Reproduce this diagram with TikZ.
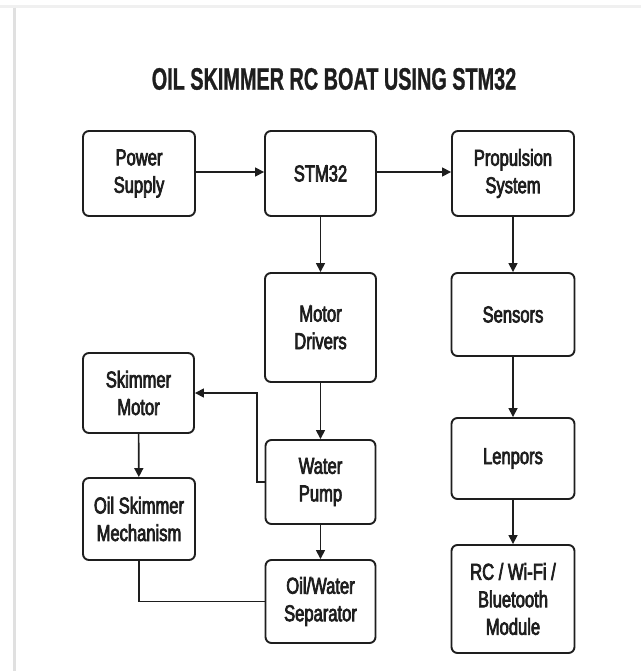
\documentclass[tikz,border=0pt]{standalone}
\usepackage{fontspec}
\setmainfont[FakeStretch=0.72]{Liberation Sans}
\newfontfamily\titlefont[FakeStretch=0.64, FakeBold=0.8]{Liberation Sans}
\usetikzlibrary{arrows.meta}
\definecolor{ink}{HTML}{1E1E1E}
\newcommand\medweight{\special{pdf:literal 2 Tr 0.7 w}}
\tikzset{
  blk/.style={draw=ink, line width=1.9pt, rounded corners=6pt, fill=white,
    align=center, inner sep=0pt, text=ink,
    font=\fontsize{23}{27.5}\selectfont\medweight},
  conn/.style={draw=ink, line width=1.6pt},
  arr/.style={conn, -{Triangle[length=9pt,width=9pt]}}
}
\begin{document}
\begin{tikzpicture}[x=1pt,y=-1pt]
\useasboundingbox (0,0) rectangle (641,671);
\fill[white] (0,0) rectangle (641,671);
% faint page edges
\draw[black!6, line width=3pt] (0,6.5) -- (641,6.5);
\draw[black!12, line width=2.5pt] (14.5,8) -- (14.5,671);

\node[font=\titlefont\bfseries\fontsize{31}{36}\selectfont, text=ink] (title) at (334,79) {OIL SKIMMER RC BOAT USING STM32};

\node[blk, minimum width=112pt, minimum height=85pt] (ps)   at (139,173.5)   {Power\\Supply};
\node[blk, minimum width=111pt, minimum height=85pt] (stm)  at (320.5,173.5) {STM32};
\node[blk, minimum width=122pt, minimum height=85pt] (prop) at (513,173.5)   {Propulsion\\System};
\node[blk, minimum width=111pt, minimum height=109pt] (md)  at (320.5,327.5) {Motor\\Drivers};
\node[blk, minimum width=123pt, minimum height=83pt] (sen)  at (513,314.5)   {Sensors};
\node[blk, minimum width=111pt, minimum height=80pt] (sm)   at (138.5,393)   {Skimmer\\Motor};
\node[blk, minimum width=110pt, minimum height=84pt] (wp)   at (320.5,482)   {Water\\Pump};
\node[blk, minimum width=123pt, minimum height=81pt] (len)  at (513,458.5)   {Lenpors};
\node[blk, minimum width=112pt, minimum height=82pt] (osm)  at (139,519)     {Oil Skimmer\\Mechanism};
\node[blk, minimum width=110pt, minimum height=83pt] (ows)  at (320.5,601.5) {Oil/Water\\Separator};
\node[blk, minimum width=123pt, minimum height=108pt] (rc)  at (513,599)     {RC / Wi-Fi /\\Bluetooth\\Module};

\coordinate (bend) at (257,482);

\draw[arr] (ps.east |- 0,172) -- (stm.west |- 0,172);
\draw[arr] (stm.east |- 0,172) -- (prop.west |- 0,172);
\draw[arr] (stm) -- (md);
\draw[arr] (prop) -- (sen);
\draw[arr] (md) -- (wp);
\draw[arr] (sen) -- (len);
\draw[arr] (wp) -- (ows);
\draw[arr] (len) -- (rc);
\draw[arr] (sm) -- (osm);
\draw[arr] (wp.west) -- (bend) |- (sm.east);
\draw[conn] (osm.south) |- (ows.west);
\end{tikzpicture}
\end{document}
